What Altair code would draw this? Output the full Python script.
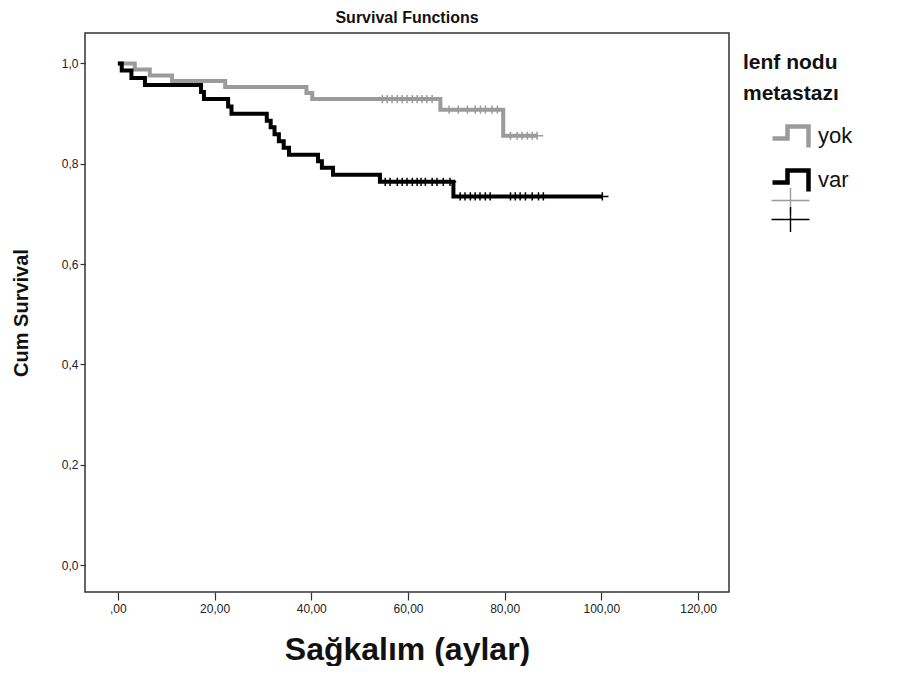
import altair as alt
import pandas as pd
import numpy as np

# ---- data ----
groups = ["yok", "var"]

yok_t = [0, 3.5, 6.6, 11.2, 22.2, 39.0, 40.2, 66.7, 79.7, 86.7]
yok_s = [1.0, 0.988, 0.976, 0.965, 0.953, 0.941, 0.929, 0.908, 0.856, 0.856]

var_t = [0, 0.8, 2.8, 5.6, 17.2, 17.8, 22.8, 23.5, 30.8, 31.6, 32.4, 33.3, 34.3,
         35.4, 41.4, 42.2, 44.5, 54.2, 69.4, 100.2]
var_s = [1.0, 0.986, 0.971, 0.957, 0.943, 0.929, 0.914, 0.900, 0.886, 0.873, 0.859,
         0.845, 0.832, 0.818, 0.805, 0.792, 0.778, 0.764, 0.735, 0.735]

yok_cens = [54.7, 55.7, 56.7, 57.8, 58.8, 59.8, 60.9, 61.9, 62.9, 63.9, 65.0,
            68.5, 70.4, 72.3, 73.9, 75.0, 76.0, 77.4, 78.5,
            81.2, 82.6, 83.6, 84.7, 85.7, 86.7]
var_cens = [55.3, 56.3, 57.8, 58.8, 59.8, 60.9, 61.9, 62.7, 63.6, 65.0, 66.0, 67.3, 68.7,
            70.8, 71.8, 72.9, 73.9, 74.9, 76.0, 77.0,
            81.2, 82.2, 83.2, 84.3, 85.7, 87.0, 88.0, 100.2]

x_ticks = [0, 20, 40, 60, 80, 100, 120]
y_ticks = [0.0, 0.2, 0.4, 0.6, 0.8, 1.0]

GREY = "#9b9b9b"
BLACK = "#000000"
FONT = "Liberation Sans"

# ---- tables ----
curve = pd.concat([
    pd.DataFrame({"t": yok_t, "s": yok_s, "grp": "yok"}),
    pd.DataFrame({"t": var_t, "s": var_s, "grp": "var"}),
])


def surv_at(times, ts, ss):
    idx = np.searchsorted(np.array(ts), np.array(times), side="right") - 1
    return [ss[i] for i in idx]


cens_yok = pd.DataFrame({"t": yok_cens, "s": surv_at(yok_cens, yok_t, yok_s), "c": "yok+"})
cens_var = pd.DataFrame({"t": var_cens, "s": surv_at(var_cens, var_t, var_s), "c": "var+"})

x_scale = alt.Scale(domain=[-6.8, 126.4], nice=False, zero=False)
y_scale = alt.Scale(domain=[-0.0538, 1.0608], nice=False, zero=False)

x_axis = alt.Axis(
    values=x_ticks, grid=False, domain=False, tickSize=8, tickColor="#333333",
    tickWidth=1.2, labelFont=FONT, labelFontSize=12, labelColor="#222222",
    labelPadding=3,
    labelExpr="datum.value == 0 ? ',00' : replace(format(datum.value, '.2f'), '.', ',')",
    title="Sağkalım (aylar)", titleFont=FONT, titleFontSize=32, titleFontWeight="bold",
    titleColor="#111111", titlePadding=20,
)
y_axis = alt.Axis(
    values=y_ticks, grid=False, domain=False, tickSize=5, tickColor="#333333",
    tickWidth=1.2, labelFont=FONT, labelFontSize=12, labelColor="#222222",
    labelPadding=2,
    labelExpr="replace(format(datum.value, '.1f'), '.', ',')",
    title="Cum Survival", titleFont=FONT, titleFontSize=20, titleFontWeight="bold",
    titleColor="#111111", titlePadding=30,
)

step_path = "M-1,0.15L-0.25,0.15L-0.25,-0.45L0.8,-0.45L0.8,0.6"
cross_path = "M-2,0L2,0M0,-1.32L0,1.32"

color = alt.Color(
    "grp:N",
    scale=alt.Scale(domain=groups, range=[GREY, BLACK]),
    legend=alt.Legend(
        title=["lenf nodu", "metastazı"], titleFont=FONT, titleFontSize=21,
        titleFontWeight="bold", titleColor="#111111", titleLineHeight=31,
        titlePadding=9, labelFont=FONT, labelFontSize=22, labelColor="#111111",
        symbolType=step_path, symbolSize=1600, symbolStrokeWidth=4.5,
        symbolOffset=27, labelOffset=3, rowPadding=-1, padding=0,
        orient="none", legendX=658, legendY=19,
    ),
)

base = alt.Chart(curve).encode(
    x=alt.X("t:Q", scale=x_scale, axis=x_axis),
    y=alt.Y("s:Q", scale=y_scale, axis=y_axis),
    color=color,
)

line_yok = base.transform_filter(alt.datum.grp == "yok").mark_line(
    interpolate="step-after", strokeWidth=4)
line_var = base.transform_filter(alt.datum.grp == "var").mark_line(
    interpolate="step-after", strokeWidth=4)

cens_yok_chart = alt.Chart(cens_yok).mark_point(
    shape=cross_path, filled=False, size=38, strokeWidth=1.5, opacity=1
).encode(
    x=alt.X("t:Q", scale=x_scale),
    y=alt.Y("s:Q", scale=y_scale),
    stroke=alt.Stroke(
        "c:N",
        scale=alt.Scale(domain=["yok+"], range=[GREY]),
        legend=alt.Legend(
            title=None, labelExpr="''", labelFontSize=1,
            symbolType=cross_path, symbolSize=361, symbolStrokeWidth=1.4,
            symbolOffset=37, padding=0,
            orient="none", legendX=658, legendY=157,
        ),
    ),
)

cens_var_chart = alt.Chart(cens_var).mark_point(
    filled=False, size=38, strokeWidth=1.5, opacity=1, stroke=BLACK
).encode(
    x=alt.X("t:Q", scale=x_scale),
    y=alt.Y("s:Q", scale=y_scale),
    shape=alt.Shape(
        "c:N",
        scale=alt.Scale(domain=["var+"], range=[cross_path]),
        legend=alt.Legend(
            title=None, labelExpr="''", labelFontSize=1,
            symbolSize=361, symbolStrokeWidth=1.4, symbolStrokeColor=BLACK,
            symbolFillColor="transparent",
            symbolOffset=37, padding=0,
            orient="none", legendX=658, legendY=176,
        ),
    ),
)

chart = alt.layer(line_yok, line_var, cens_yok_chart, cens_var_chart).properties(
    width=644, height=559,
    autosize=alt.AutoSizeParams(type="none"),
    padding={"left": 77, "top": 25, "right": 160, "bottom": 74},
    title=alt.TitleParams("Survival Functions", font=FONT, fontSize=16,
                          fontWeight="bold", color="#111111", anchor="middle",
                          offset=7),
).configure(
    background="white"
).configure_view(
    stroke="#333333", strokeWidth=1.5
)

chart.save("out.html", embed_options={"renderer": "svg", "actions": False})
